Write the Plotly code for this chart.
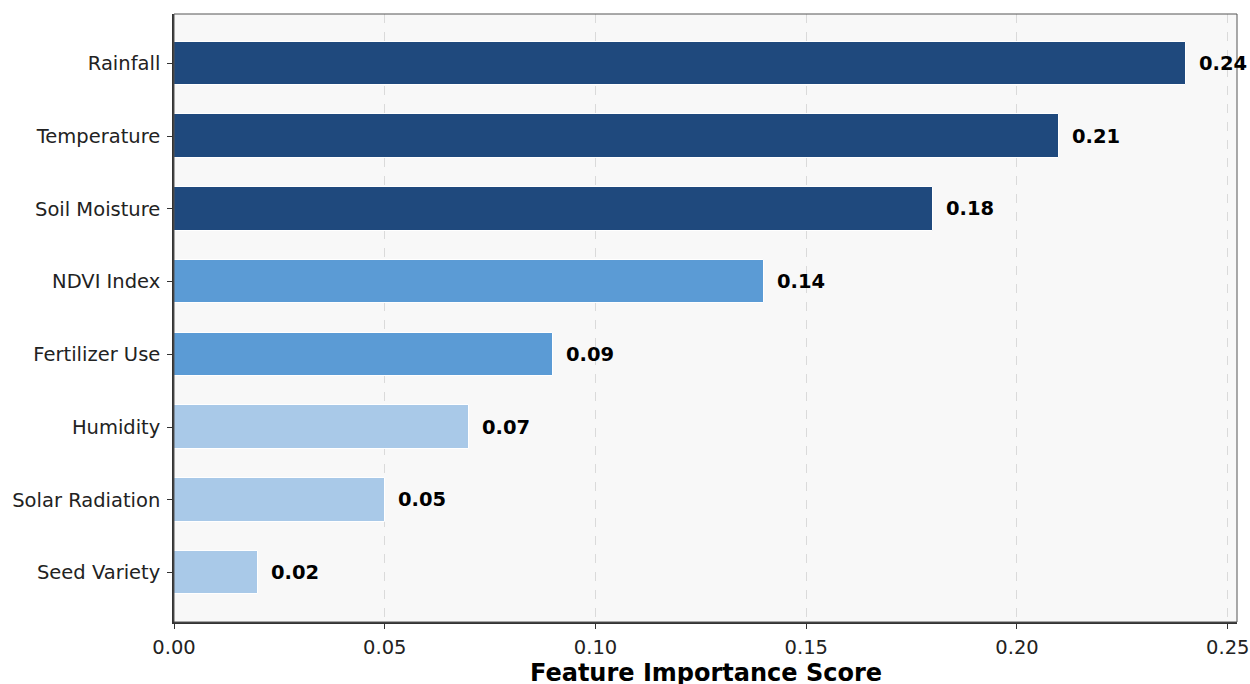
import plotly.graph_objects as go

features = ["Rainfall", "Temperature", "Soil Moisture", "NDVI Index",
            "Fertilizer Use", "Humidity", "Solar Radiation", "Seed Variety"]
importance = [0.24, 0.21, 0.18, 0.14, 0.09, 0.07, 0.05, 0.02]
colors = ["#1f497d", "#1f497d", "#1f497d", "#5b9bd5",
          "#5b9bd5", "#a9c9e8", "#a9c9e8", "#a9c9e8"]
x_ticks = [0.00, 0.05, 0.10, 0.15, 0.20, 0.25]
x_title = "Feature Importance Score"

# plot bottom-to-top like matplotlib barh on reversed list
feat_r = features[::-1]
imp_r = importance[::-1]
col_r = colors[::-1]

fig = go.Figure()
fig.add_trace(go.Bar(
    x=imp_r, y=list(range(len(feat_r))), orientation="h",
    marker=dict(color=col_r, line=dict(color="white", width=1)),
    width=0.6, hoverinfo="skip",
))

annotations = []
for i, v in enumerate(imp_r):
    annotations.append(dict(
        x=v, y=i, xref="x", yref="y", text=f"<b>{v:.2f}</b>",
        showarrow=False, xanchor="left", yanchor="middle", xshift=11,
        font=dict(family="DejaVu Sans", size=19.5, color="black"),
    ))
annotations.append(dict(
    x=0.5, y=0, xref="paper", yref="paper", text=f"<b>{x_title}</b>",
    showarrow=False, xanchor="center", yanchor="middle", yshift=-51,
    font=dict(family="DejaVu Sans", size=24, color="black"),
))

fig.update_layout(
    width=1250, height=684,
    margin=dict(l=174, r=13, t=14, b=62, autoexpand=False),
    paper_bgcolor="white", plot_bgcolor="#f8f8f8",
    font=dict(family="DejaVu Sans", size=19.5, color="#222"),
    showlegend=False,
    annotations=annotations,
    shapes=[dict(type="rect", xref="paper", yref="paper", x0=0, y0=0, x1=1, y1=1,
                 line=dict(color="#555", width=1), layer="above")],
    bargap=0,
)
fig.update_xaxes(
    range=[0, 0.2522], tickvals=x_ticks, ticktext=[f"{t:.2f}" for t in x_ticks],
    showgrid=True, gridcolor="#dadada", griddash="dash", gridwidth=1,
    zeroline=False, showline=True, linecolor="#333", linewidth=1.6,
    ticks="outside", ticklen=5, tickcolor="#333", tickwidth=1.2,
    tickfont=dict(size=19.5, color="#222"), automargin=False, ticklabelstandoff=2,
)
fig.update_yaxes(
    range=[-0.68, 7.68], tickvals=list(range(len(feat_r))), ticktext=feat_r,
    showgrid=False, zeroline=False, showline=True, linecolor="#333", linewidth=1.6,
    ticks="outside", ticklen=5, tickcolor="#333", tickwidth=1.2,
    tickfont=dict(size=19.5, color="#222"), automargin=False, ticklabelstandoff=3,
)

fig.write_html("out.html")
